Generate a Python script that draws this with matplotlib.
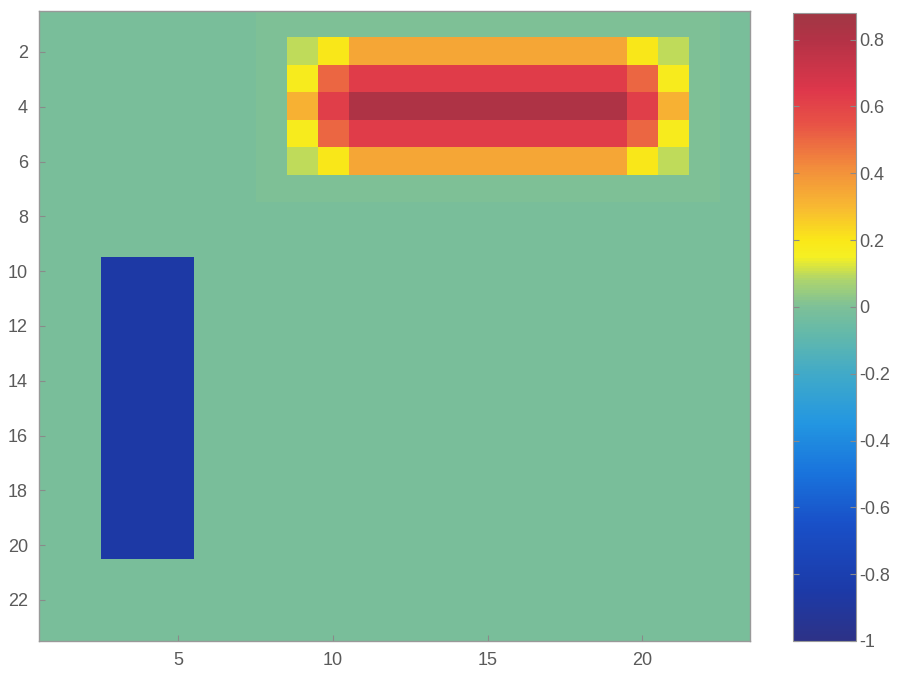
import numpy as np
import matplotlib
matplotlib.use("Agg")
import matplotlib.pyplot as plt
from matplotlib.colors import LinearSegmentedColormap, Normalize

plt.rcParams['font.family'] = ['Liberation Sans', 'DejaVu Sans']

# ---- data -------------------------------------------------------------
n_rows, n_cols = 23, 23
background = -0.015
halo_value = 0.0

# positive block: rows 2-6, columns 9-21 (1-based)
hot_rows = [2, 3, 4, 5, 6]
hot_cols = list(range(9, 22))
hot_edge_row = [0.10, 0.20] + [0.35] * 9 + [0.20, 0.10]
hot_inner_row = [0.18, 0.50] + [0.63] * 9 + [0.50, 0.18]
hot_center_row = [0.32, 0.62] + [0.82] * 9 + [0.62, 0.32]
hot_block = [hot_edge_row, hot_inner_row, hot_center_row, hot_inner_row, hot_edge_row]

# negative block: rows 10-20, columns 3-5
cold_rows = list(range(10, 21))
cold_cols = [3, 4, 5]
cold_value = -0.86

vmin, vmax = -1.0, 0.88
cbar_ticks = [-1, -0.8, -0.6, -0.4, -0.2, 0, 0.2, 0.4, 0.6, 0.8]
cbar_labels = ['-1', '-0.8', '-0.6', '-0.4', '-0.2', '0', '0.2', '0.4', '0.6', '0.8']
x_ticks = [5, 10, 15, 20]
y_ticks = list(range(2, 23, 2))

# ---- grid -------------------------------------------------------------
Z = np.full((n_rows, n_cols), background)
r0, r1 = hot_rows[0] - 1, hot_rows[-1] - 1
c0, c1 = hot_cols[0] - 1, hot_cols[-1] - 1
Z[r0 - 1:r1 + 2, c0 - 1:c1 + 2] = halo_value
Z[r0:r1 + 1, c0:c1 + 1] = np.array(hot_block)
Z[cold_rows[0] - 1:cold_rows[-1], cold_cols[0] - 1:cold_cols[-1]] = cold_value

# ---- colormap (jet-like, softened) -----------------------------------
nodes = [
    (-1.00, (45, 50, 135)),
    (-0.85, (28, 58, 168)),
    (-0.65, (25, 80, 200)),
    (-0.50, (25, 115, 220)),
    (-0.35, (35, 150, 225)),
    (-0.20, (65, 170, 200)),
    (-0.08, (100, 185, 170)),
    (0.00, (125, 192, 152)),
    (0.08, (172, 212, 110)),
    (0.15, (245, 240, 35)),
    (0.20, (250, 232, 25)),
    (0.30, (248, 185, 50)),
    (0.42, (242, 140, 60)),
    (0.55, (232, 82, 70)),
    (0.65, (222, 55, 75)),
    (0.80, (180, 50, 70)),
    (0.88, (160, 55, 68)),
]
cmap = LinearSegmentedColormap.from_list(
    "soft_jet",
    [((v - vmin) / (vmax - vmin), tuple(c / 255 for c in rgb)) for v, rgb in nodes],
)
norm = Normalize(vmin=vmin, vmax=vmax)

# ---- figure -----------------------------------------------------------
fig = plt.figure(figsize=(9.18, 6.79), dpi=100)
ax = fig.add_axes([0.0425, 0.056, 0.775, 0.928])
cax = fig.add_axes([0.864, 0.056, 0.068, 0.925])

im = ax.imshow(Z, cmap=cmap, norm=norm, aspect='auto', interpolation='nearest',
               extent=(0.5, n_cols + 0.5, n_rows + 0.5, 0.5))

label_color = '#5a5a5a'
ax.set_xticks(x_ticks)
ax.set_yticks(y_ticks)
ax.tick_params(direction='in', length=4, color='#8a8a8a', labelcolor=label_color,
               labelsize=13, pad=8, top=False, right=False)
for s in ax.spines.values():
    s.set_color('#999999')
    s.set_linewidth(1.0)

cb = fig.colorbar(im, cax=cax, ticks=cbar_ticks)
cb.ax.set_yticklabels(cbar_labels)
cb.ax.tick_params(direction='in', length=4, color='#8a8a8a', labelcolor=label_color,
                  labelsize=13, pad=3, left=True, right=True)
cb.outline.set_edgecolor('#999999')

fig.savefig("out.png", dpi=100)
